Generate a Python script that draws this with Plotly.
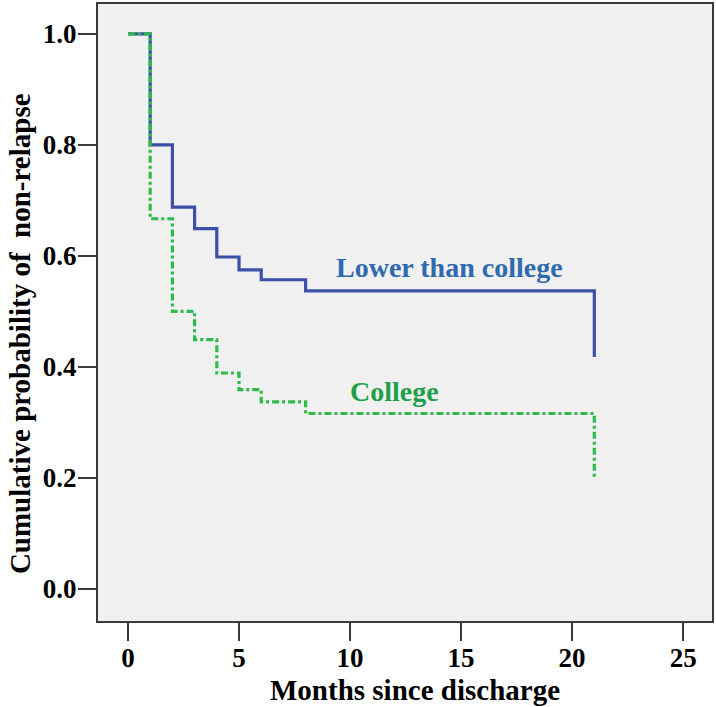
import plotly.graph_objects as go

# Kaplan-Meier step data (months since discharge, cumulative probability of non-relapse)
lower_months = [0, 1, 2, 3, 4, 5, 6, 8, 21]
lower_surv = [1.0, 0.80, 0.688, 0.649, 0.598, 0.575, 0.557, 0.537, 0.418]

college_months = [0, 1, 2, 3, 4, 5, 6, 8, 21]
college_surv = [1.0, 0.667, 0.50, 0.449, 0.389, 0.359, 0.337, 0.316, 0.20]

x_ticks = [0, 5, 10, 15, 20, 25]
y_ticks = [0.0, 0.2, 0.4, 0.6, 0.8, 1.0]

FONT = "Liberation Serif, Times New Roman, serif"

fig = go.Figure()
fig.add_trace(go.Scatter(
    x=lower_months, y=lower_surv, mode="lines", line_shape="hv",
    line=dict(color="#3d4fa6", width=3.2), name="Lower than college",
    showlegend=False,
))
fig.add_trace(go.Scatter(
    x=college_months, y=college_surv, mode="lines", line_shape="hv",
    line=dict(color="#2dbb4a", width=3.2, dash="7px,3px,3px,3px"), name="College",
    showlegend=False,
))

fig.add_annotation(x=14.46, y=0.58, text="<b>Lower than college</b>", showarrow=False,
                   font=dict(family=FONT, size=28, color="#2f6aae"))
fig.add_annotation(x=12.0, y=0.355, text="<b>College</b>", showarrow=False,
                   font=dict(family=FONT, size=28, color="#1ea04a"))

# axis titles
fig.add_annotation(xref="paper", yref="paper", x=0.516, y=-0.112, yanchor="middle",
                   text="<b>Months since discharge</b>", showarrow=False,
                   font=dict(family=FONT, size=29, color="black"))
fig.add_annotation(xref="paper", yref="paper", x=-0.127, y=0.465, xanchor="center", yanchor="middle",
                   textangle=-90, text="<b>Cumulative probability of  non-relapse</b>", showarrow=False,
                   font=dict(family=FONT, size=29, color="black"))

axis_common = dict(
    showline=True, linecolor="#3a3a3a", linewidth=2, mirror=True,
    ticks="outside", ticklen=18, tickwidth=2, tickcolor="#3a3a3a",
    showgrid=False, zeroline=False, automargin=False,
    tickfont=dict(family=FONT, size=27, color="black"),
)

fig.update_xaxes(
    range=[-1.35, 26.3], tickvals=x_ticks, ticktext=["<b>%d</b>" % v for v in x_ticks],
    ticklabelstandoff=-6,
    **axis_common,
)
fig.update_yaxes(
    range=[-0.058, 1.054], tickvals=y_ticks, ticktext=["<b>%.1f</b>" % v for v in y_ticks],
    ticklabelstandoff=-4,
    **axis_common,
)

fig.update_layout(
    width=716, height=707,
    margin=dict(l=98, r=4, t=4, b=86),
    plot_bgcolor="#f0f0f0", paper_bgcolor="white",
)

fig.write_html("out.html", config={"displayModeBar": False},
               post_script="document.body.style.margin='0';")
